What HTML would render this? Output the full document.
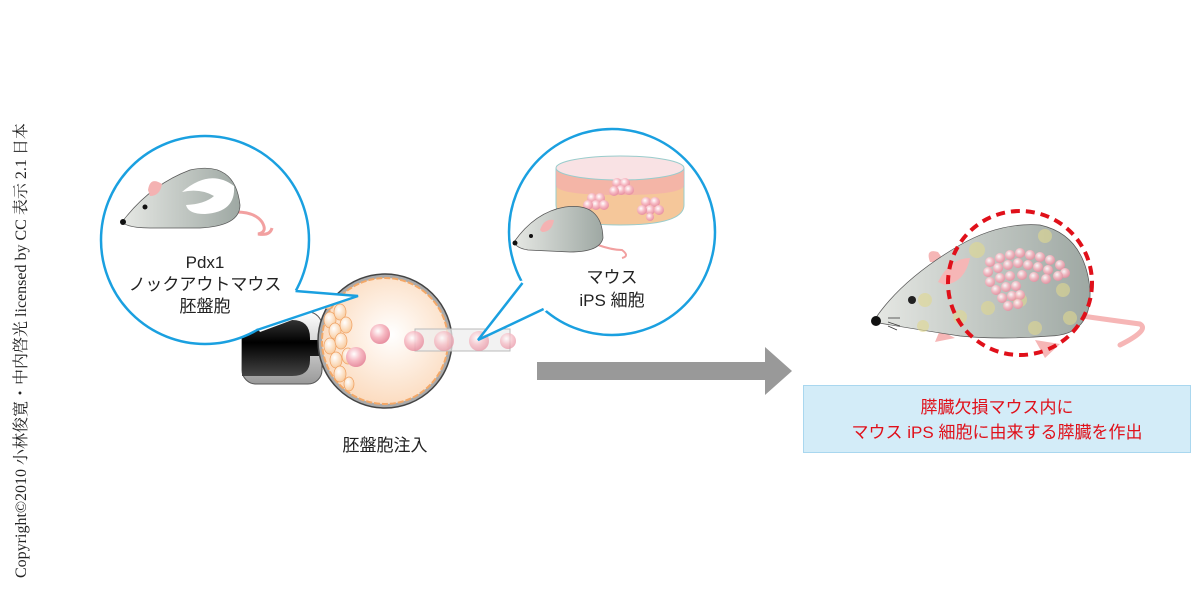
<!DOCTYPE html>
<html><head><meta charset="utf-8"><style>
body{margin:0;background:#fff;width:1200px;height:587px;overflow:hidden;font-family:"Liberation Sans","Noto Sans CJK JP",sans-serif}
</style></head><body>
<svg width="1200" height="587" xmlns="http://www.w3.org/2000/svg" font-family="Liberation Sans, Noto Sans CJK JP, sans-serif">
<defs>
<radialGradient id="bl" cx="0.55" cy="0.45" r="0.6"><stop offset="0" stop-color="#fff"/><stop offset="1" stop-color="#fbd9bb"/></radialGradient>
<radialGradient id="cell" cx="0.4" cy="0.35" r="0.7"><stop offset="0" stop-color="#fff"/><stop offset="0.5" stop-color="#f6b8c2"/><stop offset="1" stop-color="#e58a9c"/></radialGradient>
<radialGradient id="oc" cx="0.4" cy="0.35" r="0.7"><stop offset="0" stop-color="#fff"/><stop offset="1" stop-color="#f8c898"/></radialGradient>
<linearGradient id="body" x1="0" x2="1"><stop offset="0" stop-color="#e6e8e4"/><stop offset="1" stop-color="#9ea8a3"/></linearGradient>
<linearGradient id="pip" x1="0" y1="0" x2="0" y2="1"><stop offset="0" stop-color="#333"/><stop offset="0.4" stop-color="#000"/><stop offset="1" stop-color="#444"/></linearGradient>
<linearGradient id="pipo" x1="0" y1="0" x2="0" y2="1"><stop offset="0" stop-color="#fff"/><stop offset="1" stop-color="#999"/></linearGradient>
</defs>
<text transform="translate(26,578) rotate(-90)" font-family="Liberation Serif, Noto Serif CJK SC, serif" font-size="16" fill="#222">Copyright©2010 小林俊寛・中内啓光 licensed by CC 表示 2.1 日本</text>

<rect x="242" y="312" width="80" height="72" rx="14" fill="url(#pipo)" stroke="#555"/>
<path d="M242 320 H292 Q310 320 310 338 V340 H322 V356 H310 V360 Q310 376 292 376 H242 Z" fill="url(#pip)"/>

<circle cx="385" cy="341" r="67" fill="#aaa" stroke="#444" stroke-width="1.5"/>
<circle cx="385" cy="341" r="63" fill="url(#bl)" stroke="#f3a868" stroke-width="2" stroke-dasharray="6 2"/>
<g fill="url(#oc)" stroke="#f0a060" stroke-width="0.7">
<ellipse cx="330" cy="320" rx="6" ry="8"/><ellipse cx="340" cy="312" rx="6" ry="8"/><ellipse cx="335" cy="331" rx="6" ry="8"/><ellipse cx="346" cy="325" rx="6" ry="8"/><ellipse cx="330" cy="346" rx="6" ry="8"/><ellipse cx="341" cy="341" rx="6" ry="8"/><ellipse cx="348" cy="356" rx="6" ry="8"/><ellipse cx="336" cy="360" rx="6" ry="8"/><ellipse cx="340" cy="374" rx="6" ry="8"/><ellipse cx="349" cy="384" rx="5" ry="7"/><ellipse cx="328" cy="302" rx="5" ry="7"/>
</g>
<circle cx="380" cy="334" r="10" fill="url(#cell)"/>
<circle cx="356" cy="357" r="10" fill="url(#cell)"/>
<rect x="415" y="329" width="95" height="22" fill="#eee" fill-opacity="0.75" stroke="#bbb"/>
<circle cx="414" cy="341" r="10" fill="url(#cell)" opacity="0.85"/>
<circle cx="444" cy="341" r="10" fill="url(#cell)" opacity="0.7"/>
<circle cx="479" cy="341" r="10" fill="url(#cell)" opacity="0.7"/>
<circle cx="508" cy="341" r="8" fill="url(#cell)" opacity="0.7"/>
<text x="385" y="451" text-anchor="middle" font-size="17" fill="#222">胚盤胞注入</text>

<!-- left callout -->
<circle cx="205" cy="240" r="104" fill="#fff" stroke="#1aa0e0" stroke-width="2.5"/>
<path d="M298 290 L354 297 L260 332 L230 290 Z" fill="#fff"/>
<path d="M295.5 291 L358 296 L257 330" fill="none" stroke="#1aa0e0" stroke-width="2.5"/>
<!-- mouse left -->
<path d="M236 212 Q255 212 262 222 Q268 232 258 234 Q270 236 272 228" fill="none" stroke="#f2a0a0" stroke-width="3"/>
<path d="M122 222 Q150 185 190 170 Q235 160 240 205 Q240 226 200 228 L150 228 Q128 228 122 222Z" fill="url(#body)" stroke="#555" stroke-width="0.7"/>
<path d="M182 192 Q210 168 234 186 Q236 212 205 214 Q188 214 186 205 Q205 204 214 196 Q200 188 182 192Z" fill="#fff"/>
<path d="M148 190 Q150 176 162 184 Q160 196 150 196Z" fill="#f4b2b2"/>
<circle cx="145" cy="207" r="2.5" fill="#111"/><circle cx="123" cy="222" r="3" fill="#111"/>
<text x="205" y="268" text-anchor="middle" font-size="17" fill="#222">Pdx1</text>
<text x="205" y="290" text-anchor="middle" font-size="17" fill="#222">ノックアウトマウス</text>
<text x="205" y="312" text-anchor="middle" font-size="17" fill="#222">胚盤胞</text>

<!-- right callout -->
<circle cx="612" cy="232" r="103" fill="#fff" stroke="#1aa0e0" stroke-width="2.5"/>
<path d="M520 281 L482 336 L546 311 L580 270 Z" fill="#fff"/>
<path d="M522.5 283 L478 340 L543.6 309" fill="none" stroke="#1aa0e0" stroke-width="2.5"/>
<path d="M556 168 V205 Q556 225 620 225 Q684 225 684 205 V168" fill="#f5c79a" stroke="#9cc"/>
<path d="M556 168 V185 Q556 195 620 195 Q684 195 684 185 V168" fill="#f4a8b0" opacity="0.6"/>
<ellipse cx="620" cy="168" rx="64" ry="12" fill="#f9e2e4" stroke="#9cc"/>
<g fill="url(#cell)">
<circle cx="617" cy="183" r="5"/><circle cx="625" cy="183" r="5"/><circle cx="621" cy="190" r="5"/><circle cx="614" cy="191" r="5"/><circle cx="629" cy="190" r="5"/>
<circle cx="592" cy="198" r="5"/><circle cx="600" cy="198" r="5"/><circle cx="596" cy="205" r="5"/><circle cx="588" cy="205" r="5"/><circle cx="604" cy="205" r="5"/>
<circle cx="646" cy="202" r="5"/><circle cx="655" cy="202" r="5"/><circle cx="650" cy="210" r="5"/><circle cx="642" cy="210" r="5"/><circle cx="659" cy="210" r="5"/><circle cx="650" cy="217" r="4"/>
</g>
<path d="M598 245 Q612 250 622 250 Q630 256 622 258" fill="none" stroke="#f2a0a0" stroke-width="2"/>
<path d="M514 242 Q535 212 565 207 Q602 202 603 238 Q600 252 570 252 L528 250 Q516 248 514 242Z" fill="url(#body)" stroke="#555" stroke-width="0.7"/>
<path d="M540 230 Q544 218 554 220 Q552 232 542 232Z" fill="#f4b2b2"/>
<circle cx="531" cy="236" r="2" fill="#111"/><circle cx="515" cy="243" r="2.5" fill="#111"/>
<text x="612" y="283" text-anchor="middle" font-size="17" fill="#222">マウス</text>
<text x="612" y="306" text-anchor="middle" font-size="17" fill="#222">iPS 細胞</text>

<path d="M537 362 H765 V347 L792 371 L765 395 V380 H537 Z" fill="#999"/>

<!-- big mouse -->
<path d="M1075 315 Q1110 320 1140 324 Q1150 330 1120 345" fill="none" stroke="#f6b6b6" stroke-width="5" stroke-linecap="round"/>
<path d="M930 262 Q925 248 938 252 L945 262Z M1035 340 L1045 358 L1060 344Z M940 330 L935 342 L955 338Z" fill="#f6b6b6"/>
<path d="M873 322 Q900 280 960 245 Q1000 222 1040 225 Q1085 235 1090 290 Q1092 335 1050 336 Q1000 340 960 336 Q920 330 873 322Z" fill="url(#body)" stroke="#555" stroke-width="0.7"/>
<g fill="#e0d890" opacity="0.6"><circle cx="977" cy="250" r="8"/><circle cx="1045" cy="236" r="7"/><circle cx="1020" cy="300" r="7"/><circle cx="1063" cy="290" r="7"/><circle cx="925" cy="300" r="7"/><circle cx="1035" cy="328" r="7"/><circle cx="1070" cy="318" r="7"/><circle cx="960" cy="317" r="7"/><circle cx="988" cy="308" r="7"/><circle cx="923" cy="326" r="6"/></g>
<path d="M938 282 Q950 258 970 258 Q965 282 945 285Z" fill="#f6b6b6"/>
<g fill="url(#cell)" opacity="0.9">
<circle cx="990" cy="262" r="5"/><circle cx="1000" cy="258" r="5"/><circle cx="1010" cy="255" r="5"/><circle cx="1020" cy="253" r="5"/><circle cx="1030" cy="255" r="5"/><circle cx="1040" cy="257" r="5"/><circle cx="1050" cy="260" r="5"/><circle cx="1060" cy="265" r="5"/><circle cx="1065" cy="273" r="5"/>
<circle cx="988" cy="272" r="5"/><circle cx="998" cy="268" r="5"/><circle cx="1008" cy="265" r="5"/><circle cx="1018" cy="263" r="5"/><circle cx="1028" cy="265" r="5"/><circle cx="1038" cy="267" r="5"/><circle cx="1048" cy="270" r="5"/><circle cx="1058" cy="276" r="5"/>
<circle cx="990" cy="282" r="5"/><circle cx="1000" cy="278" r="5"/><circle cx="1010" cy="276" r="5"/><circle cx="1022" cy="275" r="5"/><circle cx="1034" cy="277" r="5"/><circle cx="1046" cy="279" r="5"/>
<circle cx="996" cy="290" r="5"/><circle cx="1006" cy="287" r="5"/><circle cx="1016" cy="286" r="5"/><circle cx="1002" cy="298" r="5"/><circle cx="1012" cy="296" r="5"/><circle cx="1020" cy="295" r="5"/><circle cx="1008" cy="306" r="5"/><circle cx="1018" cy="304" r="5"/>
</g>
<circle cx="912" cy="300" r="4" fill="#222"/><circle cx="876" cy="321" r="5" fill="#111"/>
<path d="M888 318 H900 M888 322 L900 326 M888 326 L897 330" stroke="#333" stroke-width="0.7"/>
<circle cx="1020" cy="283" r="72" fill="none" stroke="#e0101a" stroke-width="4" stroke-dasharray="9 6"/>

<rect x="803.5" y="385.5" width="387" height="67" fill="#d3ecf8" stroke="#a9d7ef"/>
<text x="997" y="413" text-anchor="middle" font-size="17" fill="#e0101a">膵臓欠損マウス内に</text>
<text x="997" y="438" text-anchor="middle" font-size="17" fill="#e0101a">マウス iPS 細胞に由来する膵臓を作出</text>
</svg>
</body></html>
